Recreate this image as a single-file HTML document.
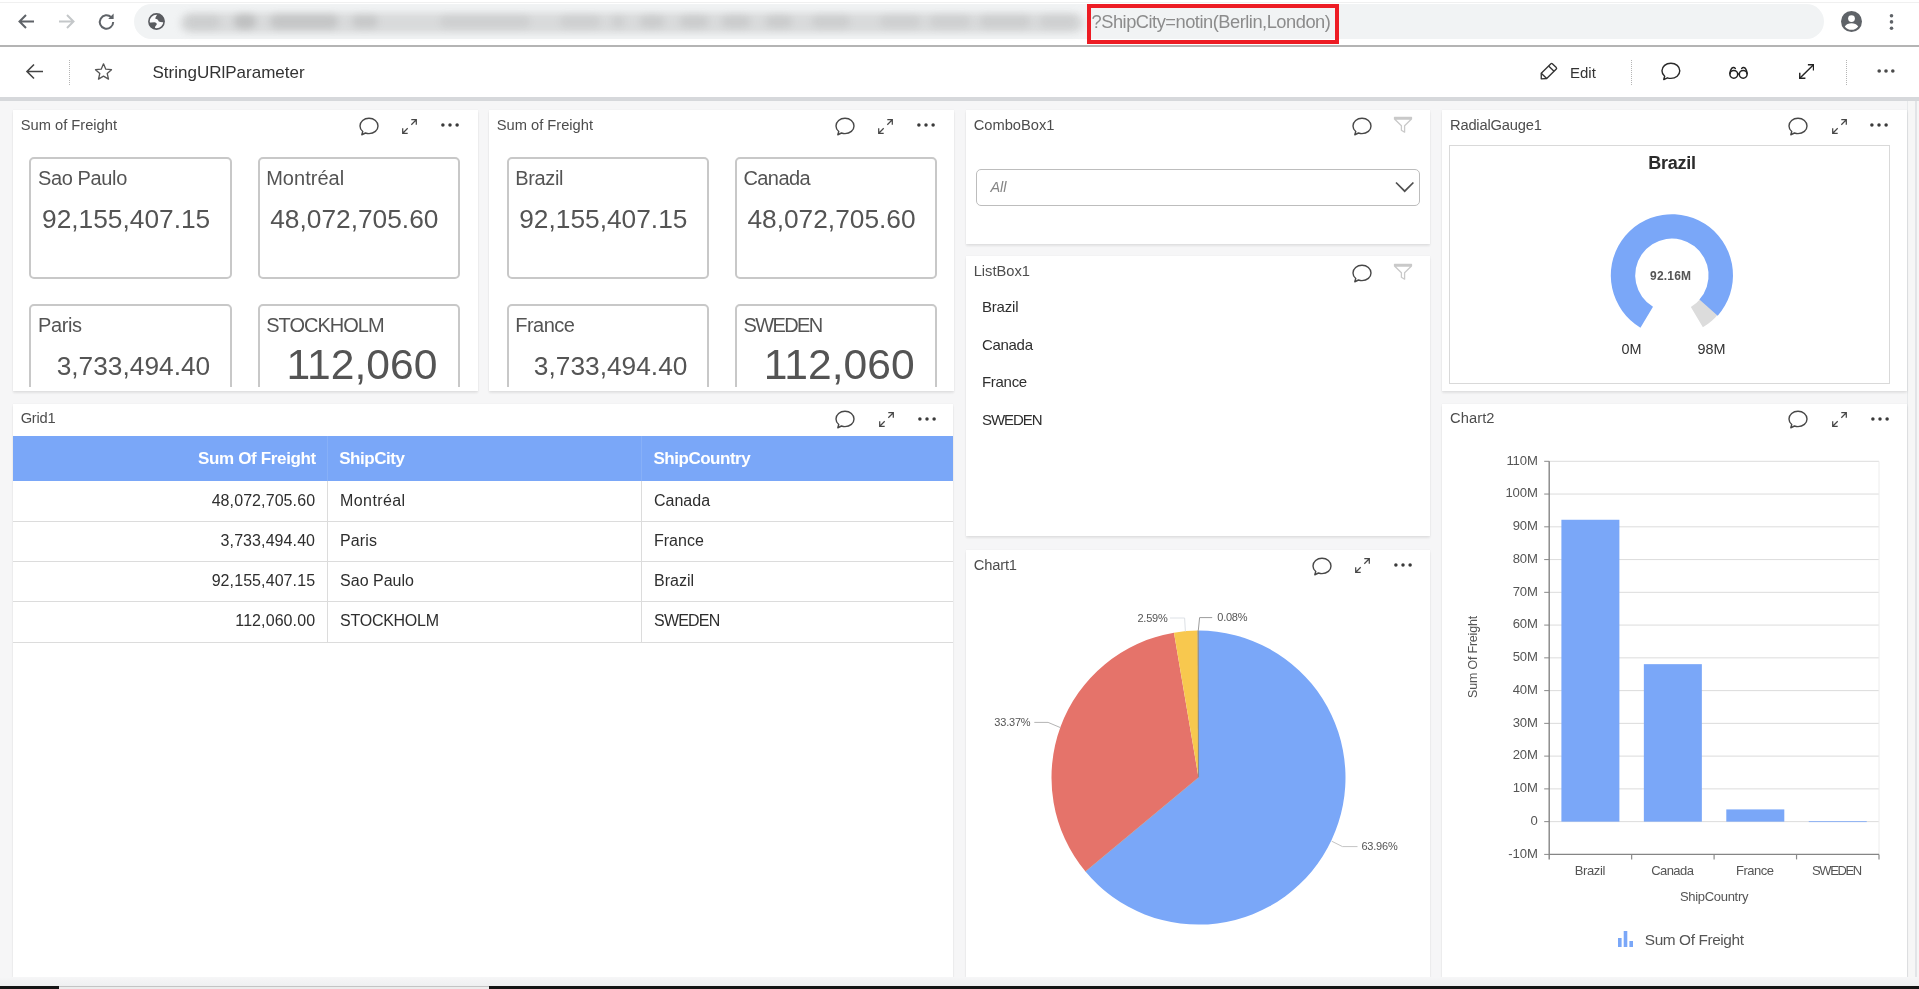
<!DOCTYPE html>
<html lang="en"><head><meta charset="utf-8"><title>StringURlParameter</title>
<style>
html,body{margin:0;padding:0;}
body{width:1919px;height:989px;overflow:hidden;position:relative;background:#f6f6f7;font-family:"Liberation Sans",sans-serif;}
.a{position:absolute;box-sizing:border-box;}
.t{position:absolute;white-space:pre;line-height:1;}
.card{box-shadow:0 1.5px 2.5px rgba(0,0,0,.09),0 0 1px rgba(0,0,0,.10);}
.kpi{border:2.5px solid #c8c8c8;border-radius:5px;background:#fff;}
#root{position:absolute;left:0;top:0;width:1919px;height:989px;will-change:transform;opacity:.999;}
</style></head><body><div id="root">
<div class="a " style="left:0.00px;top:0.00px;width:1919.00px;height:45.00px;background:#fff;"></div>
<div class="a " style="left:0.00px;top:45.00px;width:1919.00px;height:2.00px;background:#b4b4b4;"></div>
<div class="a " style="left:0.00px;top:2.00px;width:1919.00px;height:1.00px;background:#f0f0f0;"></div>
<div class="a " style="left:134.00px;top:4.00px;width:1690.00px;height:35.00px;background:#f1f3f4;border-radius:17.5px;"></div>
<div class="a " style="left:180.00px;top:12.50px;width:904.00px;height:20.00px;background:rgba(150,150,150,.27);border-radius:10px;filter:blur(3.5px);"></div>
<div class="a " style="left:186.00px;top:15.00px;width:34.00px;height:14.00px;background:rgba(120,120,120,0.12);border-radius:8px;filter:blur(3.5px);"></div>
<div class="a " style="left:234.00px;top:14.00px;width:22.00px;height:15.00px;background:rgba(120,120,120,0.26);border-radius:8px;filter:blur(3.5px);"></div>
<div class="a " style="left:270.00px;top:14.00px;width:68.00px;height:15.00px;background:rgba(120,120,120,0.2);border-radius:8px;filter:blur(3.5px);"></div>
<div class="a " style="left:352.00px;top:15.00px;width:26.00px;height:13.00px;background:rgba(120,120,120,0.18);border-radius:8px;filter:blur(3.5px);"></div>
<div class="a " style="left:440.00px;top:15.00px;width:90.00px;height:13.00px;background:rgba(120,120,120,0.1);border-radius:8px;filter:blur(3.5px);"></div>
<div class="a " style="left:560.00px;top:15.00px;width:40.00px;height:13.00px;background:rgba(120,120,120,0.1);border-radius:8px;filter:blur(3.5px);"></div>
<div class="a " style="left:612.00px;top:15.00px;width:12.00px;height:13.00px;background:rgba(120,120,120,0.12);border-radius:8px;filter:blur(3.5px);"></div>
<div class="a " style="left:640.00px;top:15.00px;width:24.00px;height:13.00px;background:rgba(120,120,120,0.14);border-radius:8px;filter:blur(3.5px);"></div>
<div class="a " style="left:680.00px;top:15.00px;width:28.00px;height:13.00px;background:rgba(120,120,120,0.14);border-radius:8px;filter:blur(3.5px);"></div>
<div class="a " style="left:722.00px;top:15.00px;width:28.00px;height:13.00px;background:rgba(120,120,120,0.14);border-radius:8px;filter:blur(3.5px);"></div>
<div class="a " style="left:766.00px;top:15.00px;width:26.00px;height:13.00px;background:rgba(120,120,120,0.14);border-radius:8px;filter:blur(3.5px);"></div>
<div class="a " style="left:812.00px;top:15.00px;width:38.00px;height:13.00px;background:rgba(120,120,120,0.12);border-radius:8px;filter:blur(3.5px);"></div>
<div class="a " style="left:880.00px;top:15.00px;width:40.00px;height:13.00px;background:rgba(120,120,120,0.1);border-radius:8px;filter:blur(3.5px);"></div>
<div class="a " style="left:930.00px;top:15.00px;width:40.00px;height:13.00px;background:rgba(120,120,120,0.1);border-radius:8px;filter:blur(3.5px);"></div>
<div class="a " style="left:980.00px;top:15.00px;width:50.00px;height:13.00px;background:rgba(120,120,120,0.12);border-radius:8px;filter:blur(3.5px);"></div>
<div class="a " style="left:1040.00px;top:15.00px;width:36.00px;height:13.00px;background:rgba(120,120,120,0.1);border-radius:8px;filter:blur(3.5px);"></div>
<svg class="a" style="left:16.00px;top:11.00px;" width="21" height="21" viewBox="0 0 21 21"><path d="M18 10.5H4 M10 4 L3.5 10.5 L10 17" fill="none" stroke="#5f6368" stroke-width="2"/></svg>
<svg class="a" style="left:56.00px;top:11.00px;" width="21" height="21" viewBox="0 0 21 21"><path d="M3 10.5H17 M11 4 L17.5 10.5 L11 17" fill="none" stroke="#c4c7c9" stroke-width="2"/></svg>
<svg class="a" style="left:96.00px;top:11.00px;" width="22" height="22" viewBox="0 0 22 22"><path d="M17.2 11a6.7 6.7 0 1 1-2-4.8" fill="none" stroke="#5f6368" stroke-width="2"/><path d="M17.6 2.6 V8 H12.2 Z" fill="#5f6368"/></svg>
<svg class="a" style="left:147.00px;top:12.00px;" width="19" height="19" viewBox="0 0 19 19"><defs><clipPath id="gc"><circle cx="9.5" cy="9.5" r="7.8"/></clipPath></defs><circle cx="9.5" cy="9.5" r="7.6" fill="#fbfbfc" stroke="#5a5c60" stroke-width="1.6"/><g clip-path="url(#gc)" fill="#5a5c60"><path d="M8.300 6.700 C8.500 5.200 9.300 3.900 10.400 2.600 L18 1 L18 10 C15.500 10.300 13.200 10.100 11.800 9.500 C11.400 7.700 10 7 8.300 6.700 Z"/><path d="M1 10.700 L7.400 10.300 C8.900 10.500 9.800 11.200 9.800 12.100 C9.800 13.300 8.400 13.700 8.200 14.700 L7.600 18 L1 18 Z"/></g></svg>
<div class="t" style="top:9px;font-size:18.3px;line-height:25px;color:#8c8c8c;letter-spacing:-0.49px;left:1091.50px;">?ShipCity=notin(Berlin,London)</div>
<div class="a " style="left:1087.00px;top:4.00px;width:252.00px;height:40.00px;border:4.7px solid #ed1c24;"></div>
<svg class="a" style="left:1841.00px;top:11.00px;" width="21" height="21" viewBox="0 0 21 21"><circle cx="10.5" cy="10.5" r="10.5" fill="#5f6368"/><circle cx="10.5" cy="7.6" r="3.4" fill="#fff"/><path d="M3.8 15.6c1.4-2.4 4-3.400 6.700-3.400s5.300 1 6.700 3.400a8.500 8.500 0 0 1-13.400 0z" fill="#fff"/></svg>
<svg class="a" style="left:1888.00px;top:12.00px;" width="7" height="20" viewBox="0 0 7 20"><circle cx="3.5" cy="3.7" r="1.8" fill="#5f6368"/><circle cx="3.5" cy="9.900" r="1.8" fill="#5f6368"/><circle cx="3.5" cy="16.3" r="1.8" fill="#5f6368"/></svg>
<div class="a " style="left:0.00px;top:47.00px;width:1919.00px;height:50.00px;background:#fff;"></div>
<div class="a " style="left:0.00px;top:97.00px;width:1919.00px;height:4.00px;background:#d6d8db;"></div>
<svg class="a" style="left:24.00px;top:61.00px;" width="21" height="21" viewBox="0 0 21 21"><path d="M19 10.5H3.500 M10 3.500 L3 10.5 L10 17.5" fill="none" stroke="#444" stroke-width="1.6"/></svg>
<div class="a " style="left:69.00px;top:60.00px;width:1.00px;height:25.00px;border-left:1px dotted #b5b5b5;"></div>
<svg class="a" style="left:94.00px;top:62.00px;" width="19" height="19" viewBox="0 0 19 19"><path d="M9.500 1.8 L11.800 7.200 L17.500 7.700 L13.200 11.500 L14.500 17.100 L9.500 14.100 L4.500 17.100 L5.800 11.500 L1.500 7.700 L7.200 7.200 Z" fill="none" stroke="#555" stroke-width="1.300" stroke-linejoin="round"/></svg>
<div class="t" style="top:61px;font-size:17px;line-height:23px;color:#333;left:152.50px;">StringURlParameter</div>
<svg class="a" style="left:1539.00px;top:62.00px;" width="20" height="19" viewBox="0 0 20 19"><g fill="none" stroke="#333" stroke-width="1.350" stroke-linejoin="round"><path d="M11.900 1.700 a1 1 0 0 1 1.400 0 L17.300 5.600 a1 1 0 0 1 0 1.400 L7.700 16.500 L2.250 16.800 L2.250 11.200 Z"/><path d="M2.250 11.200 L7.700 16.500"/><path d="M9.600 4 L15 9.200"/></g></svg>
<div class="t" style="top:62px;font-size:15px;line-height:21px;color:#333;left:1570.00px;">Edit</div>
<div class="a " style="left:1631.00px;top:60.00px;width:1.00px;height:25.00px;border-left:1px dotted #b5b5b5;"></div>
<svg class="a" style="left:1659.42px;top:60.21px;" width="23.759999999999998" height="21.78" viewBox="0 0 24 22"><path d="M12 3.2c-5 0-9 3.400-9 7.700 0 2.200 1.050 4.150 2.750 5.550 l-0.950 3.300 3.700-1.750 c1.100 0.400 2.300 0.600 3.500 0.600 5 0 9-3.400 9-7.700 s-4-7.700-9-7.700z" fill="none" stroke="#2a2a2a" stroke-width="1.45" stroke-linejoin="round"/></svg>
<svg class="a" style="left:1728.00px;top:65.50px;" width="21" height="14" viewBox="0 0 21 14"><g fill="none" stroke="#222" stroke-width="1.500" stroke-linecap="round"><circle cx="5.800" cy="8.300" r="3.900"/><circle cx="15.200" cy="8.300" r="3.900"/><path d="M9.700 8 h1.600"/><path d="M1.900 7.600 C2.300 4.500 3.600 1.600 5.200 1.400 C6.200 1.300 6.900 1.800 7.300 2.500"/><path d="M19.100 7.600 C18.700 4.500 17.400 1.600 15.800 1.400 C14.800 1.300 14.100 1.800 13.700 2.500"/></g></svg>
<svg class="a" style="left:1798.70px;top:64.00px;" width="15.3" height="15.3" viewBox="0 0 16 16"><g fill="none" stroke="#222" stroke-width="1.500"><path d="M0.800 15 L15.200 0.800"/><path d="M9.300 0.800 H15.200 V6.700"/><path d="M0.800 9.100 V15 H6.700"/></g></svg>
<div class="a " style="left:1846.00px;top:60.00px;width:1.00px;height:25.00px;border-left:1px dotted #b5b5b5;"></div>
<svg class="a" style="left:1875.80px;top:67.00px;" width="20" height="8" viewBox="0 0 20 8"><circle cx="3.20" cy="4" r="1.8" fill="#4a4a4a"/><circle cx="10.00" cy="4" r="1.8" fill="#4a4a4a"/><circle cx="16.80" cy="4" r="1.8" fill="#4a4a4a"/></svg>
<div class="a " style="left:1906.50px;top:101.00px;width:12.50px;height:888.00px;background:#f6f6f6;"></div>
<div class="a " style="left:1906.50px;top:101.00px;width:1.80px;height:888.00px;background:#e7e9eb;"></div>
<div class="a " style="left:1915.30px;top:101.00px;width:1.80px;height:888.00px;background:#e2e4e7;"></div>
<div class="a card" style="left:13.00px;top:110.00px;width:465.00px;height:281.00px;background:#fff;"></div>
<div class="t" style="top:115px;font-size:14.7px;line-height:20px;color:#4d4d4d;left:20.70px;">Sum of Freight</div>
<svg class="a" style="left:356.80px;top:114.80px;" width="24.0" height="22.0" viewBox="0 0 24 22"><path d="M12 3.2c-5 0-9 3.400-9 7.700 0 2.200 1.050 4.150 2.750 5.550 l-0.950 3.300 3.700-1.750 c1.100 0.400 2.300 0.600 3.500 0.600 5 0 9-3.400 9-7.700 s-4-7.700-9-7.700z" fill="none" stroke="#474747" stroke-width="1.4" stroke-linejoin="round"/></svg>
<svg class="a" style="left:402.00px;top:119.10px;" width="15.0" height="15.0" viewBox="0 0 15 15"><g fill="none" stroke="#474747" stroke-width="1.25" stroke-linecap="butt" stroke-linejoin="miter"><path d="M9.300 0.700 H14.300 V5.700 M14.300 0.700 L9.300 5.700"/><path d="M0.700 9.300 V14.300 H5.700 M0.700 14.300 L5.700 9.300"/></g></svg>
<svg class="a" style="left:439.90px;top:121.10px;" width="20" height="8" viewBox="0 0 20 8"><circle cx="2.90" cy="4" r="1.75" fill="#3a3a3a"/><circle cx="10.00" cy="4" r="1.75" fill="#3a3a3a"/><circle cx="17.10" cy="4" r="1.75" fill="#3a3a3a"/></svg>
<div class="a" style="left:13px;top:110px;width:465px;height:276.7px;overflow:hidden;">
<div class="a kpi" style="left:16.40px;top:47.00px;width:202.7px;height:121.7px;"></div>
<div class="a kpi" style="left:244.60px;top:47.00px;width:202.7px;height:121.7px;"></div>
<div class="a kpi" style="left:16.40px;top:194.00px;width:202.7px;height:121.7px;"></div>
<div class="a kpi" style="left:244.60px;top:194.00px;width:202.7px;height:121.7px;"></div>
</div>
<div class="t" style="top:165px;font-size:20px;line-height:26px;color:#545454;letter-spacing:-0.38px;left:38.00px;">Sao Paulo</div>
<div class="t" style="top:202px;font-size:26.3px;line-height:34px;color:#545454;right:1708.80px;">92,155,407.15</div>
<div class="t" style="top:165px;font-size:20px;line-height:26px;color:#545454;letter-spacing:0.02px;left:266.20px;">Montréal</div>
<div class="t" style="top:202px;font-size:26.3px;line-height:34px;color:#545454;right:1480.60px;">48,072,705.60</div>
<div class="t" style="top:312px;font-size:20px;line-height:26px;color:#545454;letter-spacing:-0.38px;left:38.00px;">Paris</div>
<div class="t" style="top:349px;font-size:26.3px;line-height:34px;color:#545454;right:1708.80px;">3,733,494.40</div>
<div class="t" style="top:312px;font-size:20px;line-height:26px;color:#545454;letter-spacing:-0.99px;left:266.20px;">STOCKHOLM</div>
<div class="t" style="top:338px;font-size:42.6px;line-height:52px;color:#545454;right:1481.60px;">112,060</div>
<div class="a card" style="left:489.00px;top:110.00px;width:465.00px;height:281.00px;background:#fff;"></div>
<div class="t" style="top:115px;font-size:14.7px;line-height:20px;color:#4d4d4d;left:496.70px;">Sum of Freight</div>
<svg class="a" style="left:832.80px;top:114.80px;" width="24.0" height="22.0" viewBox="0 0 24 22"><path d="M12 3.2c-5 0-9 3.400-9 7.700 0 2.200 1.050 4.150 2.750 5.550 l-0.950 3.300 3.700-1.750 c1.100 0.400 2.300 0.600 3.500 0.600 5 0 9-3.400 9-7.700 s-4-7.700-9-7.700z" fill="none" stroke="#474747" stroke-width="1.4" stroke-linejoin="round"/></svg>
<svg class="a" style="left:878.00px;top:119.10px;" width="15.0" height="15.0" viewBox="0 0 15 15"><g fill="none" stroke="#474747" stroke-width="1.25" stroke-linecap="butt" stroke-linejoin="miter"><path d="M9.300 0.700 H14.300 V5.700 M14.300 0.700 L9.300 5.700"/><path d="M0.700 9.300 V14.300 H5.700 M0.700 14.300 L5.700 9.300"/></g></svg>
<svg class="a" style="left:915.90px;top:121.10px;" width="20" height="8" viewBox="0 0 20 8"><circle cx="2.90" cy="4" r="1.75" fill="#3a3a3a"/><circle cx="10.00" cy="4" r="1.75" fill="#3a3a3a"/><circle cx="17.10" cy="4" r="1.75" fill="#3a3a3a"/></svg>
<div class="a" style="left:489px;top:110px;width:465px;height:276.7px;overflow:hidden;">
<div class="a kpi" style="left:17.60px;top:47.00px;width:202.7px;height:121.7px;"></div>
<div class="a kpi" style="left:245.80px;top:47.00px;width:202.7px;height:121.7px;"></div>
<div class="a kpi" style="left:17.60px;top:194.00px;width:202.7px;height:121.7px;"></div>
<div class="a kpi" style="left:245.80px;top:194.00px;width:202.7px;height:121.7px;"></div>
</div>
<div class="t" style="top:165px;font-size:20px;line-height:26px;color:#545454;letter-spacing:-0.35px;left:515.20px;">Brazil</div>
<div class="t" style="top:202px;font-size:26.3px;line-height:34px;color:#545454;right:1231.60px;">92,155,407.15</div>
<div class="t" style="top:165px;font-size:20px;line-height:26px;color:#545454;letter-spacing:-0.56px;left:743.40px;">Canada</div>
<div class="t" style="top:202px;font-size:26.3px;line-height:34px;color:#545454;right:1003.40px;">48,072,705.60</div>
<div class="t" style="top:312px;font-size:20px;line-height:26px;color:#545454;letter-spacing:-0.5px;left:515.20px;">France</div>
<div class="t" style="top:349px;font-size:26.3px;line-height:34px;color:#545454;right:1231.60px;">3,733,494.40</div>
<div class="t" style="top:312px;font-size:20px;line-height:26px;color:#545454;letter-spacing:-1.58px;left:743.40px;">SWEDEN</div>
<div class="t" style="top:338px;font-size:42.6px;line-height:52px;color:#545454;right:1004.40px;">112,060</div>
<div class="a card" style="left:966.00px;top:110.00px;width:464.00px;height:133.50px;background:#fff;"></div>
<div class="t" style="top:115px;font-size:14.7px;line-height:20px;color:#4d4d4d;left:973.70px;">ComboBox1</div>
<svg class="a" style="left:1350.30px;top:115.20px;" width="24.0" height="22.0" viewBox="0 0 24 22"><path d="M12 3.2c-5 0-9 3.400-9 7.700 0 2.200 1.050 4.150 2.750 5.550 l-0.950 3.300 3.700-1.750 c1.100 0.400 2.300 0.600 3.500 0.600 5 0 9-3.400 9-7.700 s-4-7.700-9-7.700z" fill="none" stroke="#474747" stroke-width="1.4" stroke-linejoin="round"/></svg>
<svg class="a" style="left:1393.00px;top:116.10px;" width="20" height="17" viewBox="0 0 20 17"><path d="M1.500 1.500 H18.500 V3 L11.600 9.800 V16.200 L8.400 14.200 V9.800 L1.500 3 Z M1.500 3 H18.500" fill="none" stroke="#c9c9c9" stroke-width="1.300" stroke-linejoin="round"/></svg>
<div class="a " style="left:976.00px;top:169.00px;width:444.00px;height:37.00px;background:#fff;border:1px solid #bdbdbd;border-radius:5px;"></div>
<div class="t" style="top:177px;font-size:14.5px;line-height:20px;color:#858585;font-style:italic;left:990.40px;">All</div>
<svg class="a" style="left:1394.00px;top:180.00px;" width="22" height="14" viewBox="0 0 22 14"><path d="M2 2.500 L10.700 11.200 L19.400 2.500" fill="none" stroke="#505050" stroke-width="1.700"/></svg>
<div class="a card" style="left:966.00px;top:256.00px;width:464.00px;height:280.00px;background:#fff;"></div>
<div class="t" style="top:261px;font-size:14.7px;line-height:20px;color:#4d4d4d;left:973.70px;">ListBox1</div>
<svg class="a" style="left:1350.30px;top:262.30px;" width="24.0" height="22.0" viewBox="0 0 24 22"><path d="M12 3.2c-5 0-9 3.400-9 7.700 0 2.200 1.050 4.150 2.750 5.550 l-0.950 3.300 3.700-1.750 c1.100 0.400 2.300 0.600 3.500 0.600 5 0 9-3.400 9-7.700 s-4-7.700-9-7.700z" fill="none" stroke="#474747" stroke-width="1.4" stroke-linejoin="round"/></svg>
<svg class="a" style="left:1393.00px;top:263.00px;" width="20" height="17" viewBox="0 0 20 17"><path d="M1.500 1.500 H18.500 V3 L11.600 9.800 V16.200 L8.400 14.200 V9.800 L1.500 3 Z M1.500 3 H18.500" fill="none" stroke="#c9c9c9" stroke-width="1.300" stroke-linejoin="round"/></svg>
<div class="t" style="top:296px;font-size:15px;line-height:21px;color:#2e2e2e;letter-spacing:-0.19px;left:982.00px;">Brazil</div>
<div class="t" style="top:334px;font-size:15px;line-height:21px;color:#2e2e2e;letter-spacing:-0.31px;left:982.00px;">Canada</div>
<div class="t" style="top:371px;font-size:15px;line-height:21px;color:#2e2e2e;letter-spacing:-0.3px;left:982.00px;">France</div>
<div class="t" style="top:409px;font-size:15px;line-height:21px;color:#2e2e2e;letter-spacing:-1.06px;left:982.00px;">SWEDEN</div>
<div class="a card" style="left:1441.50px;top:110.00px;width:465.00px;height:281.00px;background:#fff;"></div>
<div class="t" style="top:115px;font-size:14.7px;line-height:20px;color:#4d4d4d;letter-spacing:-0.19px;left:1450.00px;">RadialGauge1</div>
<svg class="a" style="left:1786.10px;top:114.90px;" width="24.0" height="22.0" viewBox="0 0 24 22"><path d="M12 3.2c-5 0-9 3.400-9 7.700 0 2.200 1.050 4.150 2.750 5.550 l-0.950 3.300 3.700-1.750 c1.100 0.400 2.300 0.600 3.500 0.600 5 0 9-3.400 9-7.700 s-4-7.700-9-7.700z" fill="none" stroke="#474747" stroke-width="1.4" stroke-linejoin="round"/></svg>
<svg class="a" style="left:1831.60px;top:119.10px;" width="15.0" height="15.0" viewBox="0 0 15 15"><g fill="none" stroke="#474747" stroke-width="1.25" stroke-linecap="butt" stroke-linejoin="miter"><path d="M9.300 0.700 H14.300 V5.700 M14.300 0.700 L9.300 5.700"/><path d="M0.700 9.300 V14.300 H5.700 M0.700 14.300 L5.700 9.300"/></g></svg>
<svg class="a" style="left:1869.40px;top:121.10px;" width="20" height="8" viewBox="0 0 20 8"><circle cx="2.90" cy="4" r="1.75" fill="#3a3a3a"/><circle cx="10.00" cy="4" r="1.75" fill="#3a3a3a"/><circle cx="17.10" cy="4" r="1.75" fill="#3a3a3a"/></svg>
<div class="a " style="left:1449.00px;top:145.00px;width:441.00px;height:239.00px;background:#fff;border:1px solid #d9d9d9;"></div>
<div class="t" style="top:151px;font-size:18px;line-height:24px;color:#2b2b2b;font-weight:700;letter-spacing:-0.25px;left:1672.00px;transform:translateX(-50%);">Brazil</div>
<svg class="a" style="left:0;top:0" width="1919" height="989" viewBox="0 0 1919 989"><path d="M1718.64 313.71 A60.5 60.5 0 0 1 1702.88 327.27 L1690.85 307.08 A37.0 37.0 0 0 0 1700.49 298.79 Z" fill="#dcdcdc"/><path d="M1640.43 327.67 A61.1 61.1 0 1 1 1717.72 315.72 L1699.42 299.58 A36.7 36.7 0 1 0 1653.00 306.76 Z" fill="#7aa7f8"/></svg>
<div class="t" style="top:267px;font-size:12px;line-height:18px;color:#555;font-weight:700;letter-spacing:0.2px;left:1670.70px;transform:translateX(-50%);">92.16M</div>
<div class="t" style="top:339px;font-size:14.4px;line-height:20px;color:#333;left:1621.50px;">0M</div>
<div class="t" style="top:339px;font-size:14.4px;line-height:20px;color:#333;left:1697.60px;">98M</div>
<div class="a card" style="left:13.00px;top:404.00px;width:940.00px;height:573.00px;background:#fff;"></div>
<div class="t" style="top:408px;font-size:14.7px;line-height:20px;color:#4d4d4d;letter-spacing:-0.26px;left:20.70px;">Grid1</div>
<svg class="a" style="left:833.40px;top:408.20px;" width="24.0" height="22.0" viewBox="0 0 24 22"><path d="M12 3.2c-5 0-9 3.400-9 7.700 0 2.200 1.050 4.150 2.750 5.550 l-0.950 3.300 3.700-1.750 c1.100 0.400 2.300 0.600 3.500 0.600 5 0 9-3.400 9-7.700 s-4-7.700-9-7.700z" fill="none" stroke="#474747" stroke-width="1.4" stroke-linejoin="round"/></svg>
<svg class="a" style="left:878.70px;top:412.00px;" width="15.0" height="15.0" viewBox="0 0 15 15"><g fill="none" stroke="#474747" stroke-width="1.25" stroke-linecap="butt" stroke-linejoin="miter"><path d="M9.300 0.700 H14.300 V5.700 M14.300 0.700 L9.300 5.700"/><path d="M0.700 9.300 V14.300 H5.700 M0.700 14.300 L5.700 9.300"/></g></svg>
<svg class="a" style="left:916.80px;top:414.90px;" width="20" height="8" viewBox="0 0 20 8"><circle cx="2.90" cy="4" r="1.75" fill="#3a3a3a"/><circle cx="10.00" cy="4" r="1.75" fill="#3a3a3a"/><circle cx="17.10" cy="4" r="1.75" fill="#3a3a3a"/></svg>
<div class="a " style="left:13.00px;top:436.00px;width:940.00px;height:44.50px;background:#7aa7f8;"></div>
<div class="a " style="left:327.00px;top:436.00px;width:1.00px;height:44.50px;background:rgba(255,255,255,.10);"></div>
<div class="a " style="left:641.00px;top:436.00px;width:1.00px;height:44.50px;background:rgba(255,255,255,.10);"></div>
<div class="t" style="top:447px;font-size:17px;line-height:23px;color:#fff;font-weight:700;letter-spacing:-0.36px;right:1603.50px;margin-right:-0.36px;">Sum Of Freight</div>
<div class="t" style="top:447px;font-size:17px;line-height:23px;color:#fff;font-weight:700;letter-spacing:-0.45px;left:339.20px;">ShipCity</div>
<div class="t" style="top:447px;font-size:17px;line-height:23px;color:#fff;font-weight:700;letter-spacing:-0.48px;left:653.50px;">ShipCountry</div>
<div class="t" style="top:490px;font-size:16px;line-height:21px;color:#2e2e2e;letter-spacing:0.09px;right:1603.80px;margin-right:0.09px;">48,072,705.60</div>
<div class="t" style="top:490px;font-size:16px;line-height:21px;color:#2e2e2e;letter-spacing:0.4px;left:340.10px;">Montréal</div>
<div class="t" style="top:490px;font-size:16px;line-height:21px;color:#2e2e2e;left:654.00px;">Canada</div>
<div class="a " style="left:13.00px;top:520.50px;width:940.00px;height:1.20px;background:#dcdcdc;"></div>
<div class="t" style="top:530px;font-size:16px;line-height:21px;color:#2e2e2e;letter-spacing:0.09px;right:1603.80px;margin-right:0.09px;">3,733,494.40</div>
<div class="t" style="top:530px;font-size:16px;line-height:21px;color:#2e2e2e;letter-spacing:0.1px;left:340.10px;">Paris</div>
<div class="t" style="top:530px;font-size:16px;line-height:21px;color:#2e2e2e;left:654.00px;">France</div>
<div class="a " style="left:13.00px;top:560.50px;width:940.00px;height:1.20px;background:#dcdcdc;"></div>
<div class="t" style="top:570px;font-size:16px;line-height:21px;color:#2e2e2e;letter-spacing:0.09px;right:1603.80px;margin-right:0.09px;">92,155,407.15</div>
<div class="t" style="top:570px;font-size:16px;line-height:21px;color:#2e2e2e;left:340.10px;">Sao Paulo</div>
<div class="t" style="top:570px;font-size:16px;line-height:21px;color:#2e2e2e;left:654.00px;">Brazil</div>
<div class="a " style="left:13.00px;top:601.10px;width:940.00px;height:1.20px;background:#dcdcdc;"></div>
<div class="t" style="top:610px;font-size:16px;line-height:21px;color:#2e2e2e;letter-spacing:0.09px;right:1603.80px;margin-right:0.09px;">112,060.00</div>
<div class="t" style="top:610px;font-size:16px;line-height:21px;color:#2e2e2e;letter-spacing:-0.27px;left:340.10px;">STOCKHOLM</div>
<div class="t" style="top:610px;font-size:16px;line-height:21px;color:#2e2e2e;letter-spacing:-0.79px;left:654.00px;">SWEDEN</div>
<div class="a " style="left:13.00px;top:641.80px;width:940.00px;height:1.20px;background:#dcdcdc;"></div>
<div class="a " style="left:327.00px;top:480.50px;width:1.00px;height:162.00px;background:#dcdcdc;"></div>
<div class="a " style="left:641.00px;top:480.50px;width:1.00px;height:162.00px;background:#dcdcdc;"></div>
<div class="a card" style="left:966.00px;top:550.30px;width:464.00px;height:426.70px;background:#fff;"></div>
<div class="t" style="top:555px;font-size:14.7px;line-height:20px;color:#4d4d4d;letter-spacing:-0.16px;left:973.70px;">Chart1</div>
<svg class="a" style="left:1310.00px;top:555.30px;" width="24.0" height="22.0" viewBox="0 0 24 22"><path d="M12 3.2c-5 0-9 3.400-9 7.700 0 2.200 1.050 4.150 2.750 5.550 l-0.950 3.300 3.700-1.750 c1.100 0.400 2.300 0.600 3.500 0.600 5 0 9-3.400 9-7.700 s-4-7.700-9-7.700z" fill="none" stroke="#474747" stroke-width="1.4" stroke-linejoin="round"/></svg>
<svg class="a" style="left:1354.90px;top:558.00px;" width="15.0" height="15.0" viewBox="0 0 15 15"><g fill="none" stroke="#474747" stroke-width="1.25" stroke-linecap="butt" stroke-linejoin="miter"><path d="M9.300 0.700 H14.300 V5.700 M14.300 0.700 L9.300 5.700"/><path d="M0.700 9.300 V14.300 H5.700 M0.700 14.300 L5.700 9.300"/></g></svg>
<svg class="a" style="left:1392.80px;top:561.00px;" width="20" height="8" viewBox="0 0 20 8"><circle cx="2.90" cy="4" r="1.75" fill="#3a3a3a"/><circle cx="10.00" cy="4" r="1.75" fill="#3a3a3a"/><circle cx="17.10" cy="4" r="1.75" fill="#3a3a3a"/></svg>
<svg class="a" style="left:0;top:0" width="1919" height="989" viewBox="0 0 1919 989"><path d="M1198.5 777.6 L1198.50 630.60 A147.0 147.0 0 1 1 1085.47 871.59 Z" fill="#7aa7f8"/><path d="M1198.5 777.6 L1085.47 871.59 A147.0 147.0 0 0 1 1173.95 632.66 Z" fill="#e5736a"/><path d="M1198.5 777.6 L1173.95 632.66 A147.0 147.0 0 0 1 1197.76 630.60 Z" fill="#f8c84e"/><path d="M1198.5 777.6 L1197.76 630.60 A147.0 147.0 0 0 1 1198.50 630.60 Z" fill="#8f8f8f"/><path d="M1198.5 777.6 L1198.2 630.6" stroke="#8c8c8c" stroke-width="1.1" fill="none"/><path d="M1198.5 777.6 L1085.47 871.59" stroke="#9aa3ad" stroke-width="0.7" fill="none" opacity=".7"/><g fill="none" stroke-width="1"><path d="M1185.400 631.500 L1184.600 618 H1170" stroke="#dde1e6"/><path d="M1198.300 630.500 L1199.600 617.600 H1212.200" stroke="#9c9c9c"/><path d="M1060.600 727.700 L1048.100 722.400 H1034.300" stroke="#b4b4b4"/><path d="M1331.700 841.200 L1342.500 846.600 H1357.500" stroke="#c4c4c4"/></g></svg>
<div class="t" style="top:610px;font-size:11px;line-height:16px;color:#555;letter-spacing:-0.25px;left:1137.50px;">2.59%</div>
<div class="t" style="top:609px;font-size:11px;line-height:16px;color:#555;letter-spacing:-0.25px;left:1217.30px;">0.08%</div>
<div class="t" style="top:714px;font-size:11px;line-height:16px;color:#555;letter-spacing:-0.2px;left:994.30px;">33.37%</div>
<div class="t" style="top:838px;font-size:11px;line-height:16px;color:#555;letter-spacing:-0.2px;left:1361.40px;">63.96%</div>
<div class="a card" style="left:1441.50px;top:404.00px;width:465.00px;height:573.00px;background:#fff;"></div>
<div class="t" style="top:408px;font-size:14.7px;line-height:20px;color:#4d4d4d;letter-spacing:0.08px;left:1450.00px;">Chart2</div>
<svg class="a" style="left:1786.10px;top:408.20px;" width="24.0" height="22.0" viewBox="0 0 24 22"><path d="M12 3.2c-5 0-9 3.400-9 7.700 0 2.200 1.050 4.150 2.750 5.550 l-0.950 3.300 3.700-1.750 c1.100 0.400 2.300 0.600 3.500 0.600 5 0 9-3.400 9-7.700 s-4-7.700-9-7.700z" fill="none" stroke="#474747" stroke-width="1.4" stroke-linejoin="round"/></svg>
<svg class="a" style="left:1831.60px;top:412.00px;" width="15.0" height="15.0" viewBox="0 0 15 15"><g fill="none" stroke="#474747" stroke-width="1.25" stroke-linecap="butt" stroke-linejoin="miter"><path d="M9.300 0.700 H14.300 V5.700 M14.300 0.700 L9.300 5.700"/><path d="M0.700 9.300 V14.300 H5.700 M0.700 14.300 L5.700 9.300"/></g></svg>
<svg class="a" style="left:1869.80px;top:414.90px;" width="20" height="8" viewBox="0 0 20 8"><circle cx="2.90" cy="4" r="1.75" fill="#3a3a3a"/><circle cx="10.00" cy="4" r="1.75" fill="#3a3a3a"/><circle cx="17.10" cy="4" r="1.75" fill="#3a3a3a"/></svg>
<svg class="a" style="left:0;top:0" width="1919" height="989" viewBox="0 0 1919 989"><path d="M1549.2 461.30 H1879.0" stroke="#dcdcdc" stroke-width="1"/><path d="M1544.2 461.30 H1549.2" stroke="#8a8a8a" stroke-width="1"/><path d="M1549.2 494.06 H1879.0" stroke="#dcdcdc" stroke-width="1"/><path d="M1544.2 494.06 H1549.2" stroke="#8a8a8a" stroke-width="1"/><path d="M1549.2 526.82 H1879.0" stroke="#dcdcdc" stroke-width="1"/><path d="M1544.2 526.82 H1549.2" stroke="#8a8a8a" stroke-width="1"/><path d="M1549.2 559.58 H1879.0" stroke="#dcdcdc" stroke-width="1"/><path d="M1544.2 559.58 H1549.2" stroke="#8a8a8a" stroke-width="1"/><path d="M1549.2 592.33 H1879.0" stroke="#dcdcdc" stroke-width="1"/><path d="M1544.2 592.33 H1549.2" stroke="#8a8a8a" stroke-width="1"/><path d="M1549.2 625.09 H1879.0" stroke="#dcdcdc" stroke-width="1"/><path d="M1544.2 625.09 H1549.2" stroke="#8a8a8a" stroke-width="1"/><path d="M1549.2 657.85 H1879.0" stroke="#dcdcdc" stroke-width="1"/><path d="M1544.2 657.85 H1549.2" stroke="#8a8a8a" stroke-width="1"/><path d="M1549.2 690.61 H1879.0" stroke="#dcdcdc" stroke-width="1"/><path d="M1544.2 690.61 H1549.2" stroke="#8a8a8a" stroke-width="1"/><path d="M1549.2 723.37 H1879.0" stroke="#dcdcdc" stroke-width="1"/><path d="M1544.2 723.37 H1549.2" stroke="#8a8a8a" stroke-width="1"/><path d="M1549.2 756.12 H1879.0" stroke="#dcdcdc" stroke-width="1"/><path d="M1544.2 756.12 H1549.2" stroke="#8a8a8a" stroke-width="1"/><path d="M1549.2 788.88 H1879.0" stroke="#dcdcdc" stroke-width="1"/><path d="M1544.2 788.88 H1549.2" stroke="#8a8a8a" stroke-width="1"/><path d="M1549.2 821.64 H1879.0" stroke="#dcdcdc" stroke-width="1"/><path d="M1544.2 821.64 H1549.2" stroke="#8a8a8a" stroke-width="1"/><path d="M1544.2 854.40 H1549.2" stroke="#8a8a8a" stroke-width="1"/><path d="M1879.0 461.3 V854.4" stroke="#ececec" stroke-width="1"/><rect x="1561.40" y="519.76" width="58" height="301.88" fill="#7aa7f8"/><rect x="1643.85" y="664.16" width="58" height="157.48" fill="#7aa7f8"/><rect x="1726.30" y="809.41" width="58" height="12.23" fill="#7aa7f8"/><rect x="1808.75" y="821.27" width="58" height="0.80" fill="#7aa7f8"/><path d="M1549.2 461.3 V859.4" stroke="#858585" stroke-width="1.4" fill="none"/><path d="M1549.2 854.4 H1879.0" stroke="#858585" stroke-width="1.4" fill="none"/><path d="M1631.65 854.4 V859.4" stroke="#8a8a8a" stroke-width="1.2"/><path d="M1714.10 854.4 V859.4" stroke="#8a8a8a" stroke-width="1.2"/><path d="M1796.55 854.4 V859.4" stroke="#8a8a8a" stroke-width="1.2"/><path d="M1879.00 854.4 V859.4" stroke="#8a8a8a" stroke-width="1.2"/><rect x="1618" y="938" width="3.600" height="9" fill="#7aa7f8"/><rect x="1623.700" y="931" width="3.600" height="16" fill="#7aa7f8"/><rect x="1629.400" y="941" width="3.600" height="6" fill="#7aa7f8"/></svg>
<div class="t" style="top:451px;font-size:13.1px;line-height:19px;color:#555;letter-spacing:-0.1px;right:381.30px;margin-right:-0.1px;">110M</div>
<div class="t" style="top:483px;font-size:13.1px;line-height:19px;color:#555;letter-spacing:-0.1px;right:381.30px;margin-right:-0.1px;">100M</div>
<div class="t" style="top:516px;font-size:13.1px;line-height:19px;color:#555;letter-spacing:-0.1px;right:381.30px;margin-right:-0.1px;">90M</div>
<div class="t" style="top:549px;font-size:13.1px;line-height:19px;color:#555;letter-spacing:-0.1px;right:381.30px;margin-right:-0.1px;">80M</div>
<div class="t" style="top:582px;font-size:13.1px;line-height:19px;color:#555;letter-spacing:-0.1px;right:381.30px;margin-right:-0.1px;">70M</div>
<div class="t" style="top:614px;font-size:13.1px;line-height:19px;color:#555;letter-spacing:-0.1px;right:381.30px;margin-right:-0.1px;">60M</div>
<div class="t" style="top:647px;font-size:13.1px;line-height:19px;color:#555;letter-spacing:-0.1px;right:381.30px;margin-right:-0.1px;">50M</div>
<div class="t" style="top:680px;font-size:13.1px;line-height:19px;color:#555;letter-spacing:-0.1px;right:381.30px;margin-right:-0.1px;">40M</div>
<div class="t" style="top:713px;font-size:13.1px;line-height:19px;color:#555;letter-spacing:-0.1px;right:381.30px;margin-right:-0.1px;">30M</div>
<div class="t" style="top:745px;font-size:13.1px;line-height:19px;color:#555;letter-spacing:-0.1px;right:381.30px;margin-right:-0.1px;">20M</div>
<div class="t" style="top:778px;font-size:13.1px;line-height:19px;color:#555;letter-spacing:-0.1px;right:381.30px;margin-right:-0.1px;">10M</div>
<div class="t" style="top:811px;font-size:13.1px;line-height:19px;color:#555;letter-spacing:-0.1px;right:381.30px;margin-right:-0.1px;">0</div>
<div class="t" style="top:844px;font-size:13.1px;line-height:19px;color:#555;letter-spacing:-0.1px;right:381.30px;margin-right:-0.1px;">-10M</div>
<div class="t" style="top:861px;font-size:13px;line-height:19px;color:#555;letter-spacing:-0.36px;left:1589.83px;transform:translateX(-50%);">Brazil</div>
<div class="t" style="top:861px;font-size:13px;line-height:19px;color:#555;letter-spacing:-0.55px;left:1672.28px;transform:translateX(-50%);">Canada</div>
<div class="t" style="top:861px;font-size:13px;line-height:19px;color:#555;letter-spacing:-0.53px;left:1754.73px;transform:translateX(-50%);">France</div>
<div class="t" style="top:861px;font-size:13px;line-height:19px;color:#555;letter-spacing:-1.37px;left:1836.48px;transform:translateX(-50%);">SWEDEN</div>
<div class="t" style="top:887px;font-size:13px;line-height:19px;color:#555;letter-spacing:-0.3px;left:1714.00px;transform:translateX(-50%);">ShipCountry</div>
<div class="t" style="left:1472.5px;top:657px;font-size:12.5px;color:#555;transform:translate(-50%,-50%) rotate(-90deg);letter-spacing:-0.2px;">Sum Of Freight</div>
<div class="t" style="top:929px;font-size:15.4px;line-height:21px;color:#555;letter-spacing:-0.4px;left:1644.80px;">Sum Of Freight</div>
<div class="a " style="left:0.00px;top:977.00px;width:1919.00px;height:9.30px;background:linear-gradient(#f6f6f7,#eff0f1);"></div>
<div class="a " style="left:0.00px;top:986.30px;width:1919.00px;height:2.70px;background:#151515;"></div>
<div class="a " style="left:59.00px;top:986.30px;width:430.00px;height:2.70px;background:#ececec;"></div>
<div class="a " style="left:59.00px;top:986.30px;width:430.00px;height:1.00px;background:#c4c4c4;"></div>
</div></body></html>
